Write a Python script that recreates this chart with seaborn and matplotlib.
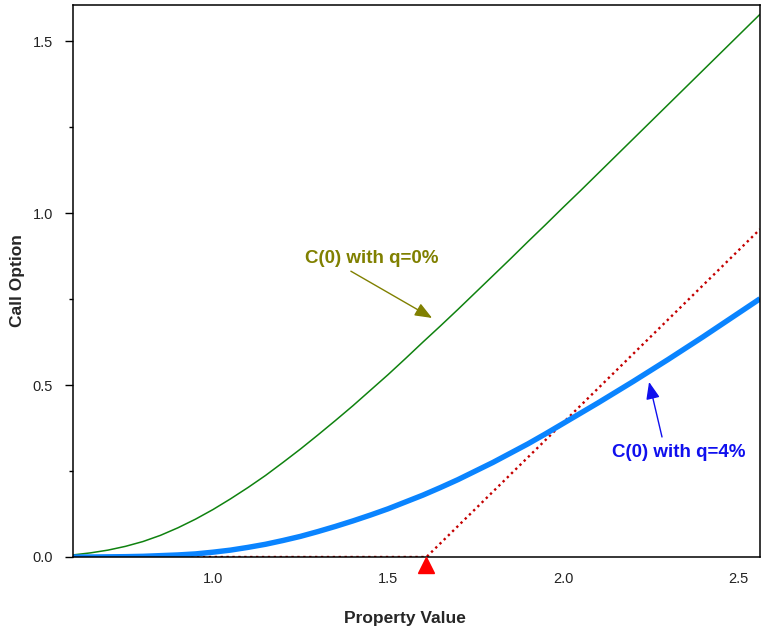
import matplotlib
matplotlib.use("Agg")
import matplotlib.pyplot as plt
from matplotlib.ticker import MultipleLocator, NullLocator
import seaborn as sns
import pandas as pd

# ---- data ----
property_value = [0.60, 0.65, 0.70, 0.75, 0.80, 0.85, 0.90, 0.95, 1.00, 1.05,
                  1.10, 1.15, 1.20, 1.25, 1.30, 1.35, 1.40, 1.45, 1.50, 1.55,
                  1.60, 1.65, 1.70, 1.75, 1.80, 1.85, 1.90, 1.95, 2.00, 2.05,
                  2.10, 2.15, 2.20, 2.25, 2.30, 2.35, 2.40, 2.45, 2.50, 2.55, 2.563]
call_q0 = [0.006, 0.012, 0.020, 0.031, 0.045, 0.063, 0.085, 0.110, 0.138, 0.169,
           0.202, 0.237, 0.275, 0.314, 0.355, 0.397, 0.440, 0.485, 0.530, 0.577,
           0.625, 0.672, 0.720, 0.769, 0.818, 0.867, 0.917, 0.966, 1.016, 1.065,
           1.115, 1.165, 1.215, 1.265, 1.315, 1.365, 1.415, 1.465, 1.515, 1.565, 1.578]
call_q4 = [0.000, 0.000, 0.0005, 0.001, 0.002, 0.004, 0.006, 0.009, 0.014, 0.020,
           0.028, 0.037, 0.048, 0.060, 0.074, 0.089, 0.105, 0.122, 0.140, 0.160,
           0.180, 0.202, 0.225, 0.250, 0.275, 0.302, 0.329, 0.358, 0.388, 0.418,
           0.448, 0.479, 0.510, 0.542, 0.574, 0.607, 0.640, 0.674, 0.708, 0.742, 0.751]
intrinsic_x = [0.60, 1.61, 2.563]
intrinsic_y = [0.0, 0.0, 0.953]
strike = 1.61
x_ticks = [1.0, 1.5, 2.0, 2.5]
y_ticks = [0.0, 0.5, 1.0, 1.5]
label_q0 = "C(0) with q=0%"
label_q4 = "C(0) with q=4%"

sns.set_style("white")
plt.rcParams['font.family'] = ['Liberation Sans', 'DejaVu Sans']

df = pd.DataFrame({"S": property_value, "q0": call_q0, "q4": call_q4})
df_int = pd.DataFrame({"S": intrinsic_x, "v": intrinsic_y})

fig = plt.figure(figsize=(7.61, 6.33), dpi=100)
ax = fig.add_axes([73/761, 1 - 557/633, (760 - 73)/761, (557 - 5)/633])

sns.lineplot(data=df, x="S", y="q0", ax=ax, color="#0f820f", linewidth=1.1)
sns.lineplot(data=df_int, x="S", y="v", ax=ax, color="#c40000", linewidth=1.7,
             linestyle=(0, (1, 1.5)))
sns.lineplot(data=df, x="S", y="q4", ax=ax, color="#0a84ff", linewidth=3.9,
             solid_capstyle="butt")

ax.plot([strike], [-0.024], marker="^", color="#ff0000", markersize=11,
        linestyle="none", clip_on=False, zorder=5)

ax.set_xlim(0.6, 2.563)
ax.set_ylim(0.0, 1.605)

ax.set_xticks(x_ticks)
ax.set_xticklabels([f"{v:.1f}" for v in x_ticks])
ax.set_yticks(y_ticks)
ax.set_yticklabels([f"{v:.1f}" for v in y_ticks])
ax.yaxis.set_minor_locator(MultipleLocator(0.25))
ax.xaxis.set_minor_locator(NullLocator())
ax.tick_params(axis="y", which="major", direction="out", length=5.8, width=1.0,
               pad=8.5, labelsize=10.5, left=True, colors="black")
ax.tick_params(axis="y", which="minor", direction="out", length=3.2, width=1.0,
               left=True, colors="black")
ax.tick_params(axis="x", which="major", length=0, pad=11, labelsize=10.5)
for lab in ax.get_xticklabels() + ax.get_yticklabels():
    lab.set_color("#222222")

for sp in ax.spines.values():
    sp.set_visible(True)
    sp.set_color("black")
    sp.set_linewidth(1.1)

ax.set_xlabel("Property Value", fontsize=12.5, fontweight="bold")
ax.set_ylabel("Call Option", fontsize=12.5, fontweight="bold")
ax.xaxis.set_label_coords(0.483, -0.097)
ax.yaxis.set_label_coords(-0.070, 0.5)

arrow_style = "-|>,head_length=0.8,head_width=0.32"
ax.text(1.454, 0.869, label_q0, ha="center", va="center", color="#808000",
        fontsize=13.5, fontweight="bold")
ax.annotate("", xy=(1.626, 0.695), xytext=(1.394, 0.831),
            arrowprops=dict(arrowstyle=arrow_style, color="#808000", lw=1.0,
                            shrinkA=0, shrinkB=0, mutation_scale=13))
ax.text(2.331, 0.305, label_q4, ha="center", va="center", color="#1010ee",
        fontsize=13.5, fontweight="bold")
ax.annotate("", xy=(2.246, 0.509), xytext=(2.283, 0.349),
            arrowprops=dict(arrowstyle=arrow_style, color="#1010ee", lw=1.0,
                            shrinkA=0, shrinkB=0, mutation_scale=13))

fig.savefig("out.png", dpi=100)
